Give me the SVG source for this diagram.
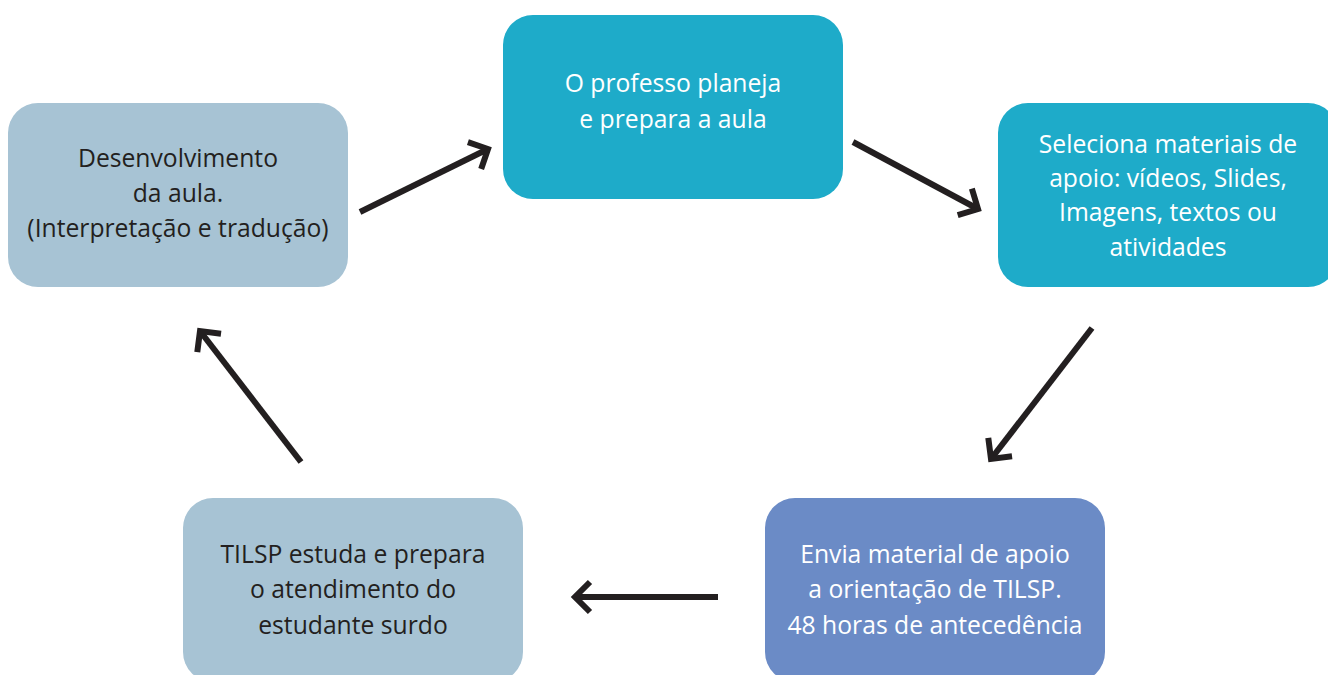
<svg xmlns="http://www.w3.org/2000/svg" width="1328" height="675" viewBox="0 0 1328 675">
<style>
.box{stroke:none}
.light{fill:#a7c3d4}
.teal{fill:#1eabc9}
.blue{fill:#6b8bc6}
text{font-family:"Open Sans","Noto Sans",sans-serif;font-size:24.7px;text-anchor:middle}
.dk{fill:#231f20}
.wt{fill:#ffffff}
.arrow{stroke:#231f20;stroke-width:6;fill:none;marker-end:url(#chev)}
</style>
<defs>
<marker id="chev" markerUnits="userSpaceOnUse" viewBox="-20 -20 30 40" refX="0" refY="0" markerWidth="30" markerHeight="40" orient="auto" overflow="visible">
<path d="M-15,-15 L0,0 L-15,15" fill="none" stroke="#231f20" stroke-width="6" stroke-linejoin="miter"/>
</marker>
</defs>
<rect width="1328" height="675" fill="#ffffff"/>
<g id="connectors">
<line class="arrow" x1="360" y1="212" x2="488" y2="149"/>
<line class="arrow" x1="853" y1="142" x2="978" y2="209"/>
<line class="arrow" x1="1092" y1="328" x2="991" y2="459"/>
<line class="arrow" x1="718" y1="597" x2="575" y2="597"/>
<line class="arrow" x1="301" y1="462" x2="200" y2="331"/>
</g>
<g id="node-desenvolvimento">
<rect class="box light" x="8" y="103" width="340" height="184" rx="30"/>
<text class="dk" x="178" y="167">Desenvolvimento</text>
<text class="dk" x="178" y="202">da aula.</text>
<text class="dk" x="178" y="237">(Interpretação e tradução)</text>
</g>
<g id="node-professor">
<rect class="box teal" x="503" y="15" width="340" height="184" rx="30"/>
<text class="wt" x="673" y="92">O professo planeja</text>
<text class="wt" x="673" y="128">e prepara a aula</text>
</g>
<g id="node-seleciona">
<rect class="box teal" x="998" y="103" width="340" height="184" rx="30"/>
<text class="wt" x="1168" y="153">Seleciona materiais de</text>
<text class="wt" x="1168" y="187">apoio: vídeos, Slides,</text>
<text class="wt" x="1168" y="221">Imagens, textos ou</text>
<text class="wt" x="1168" y="256">atividades</text>
</g>
<g id="node-envia">
<rect class="box blue" x="765" y="498" width="340" height="184" rx="30"/>
<text class="wt" x="935" y="563">Envia material de apoio</text>
<text class="wt" x="935" y="598">a orientação de TILSP.</text>
<text class="wt" x="935" y="634">48 horas de antecedência</text>
</g>
<g id="node-tilsp">
<rect class="box light" x="183" y="498" width="340" height="184" rx="30"/>
<text class="dk" x="353" y="563">TILSP estuda e prepara</text>
<text class="dk" x="353" y="598">o atendimento do</text>
<text class="dk" x="353" y="634">estudante surdo</text>
</g>
</svg>
